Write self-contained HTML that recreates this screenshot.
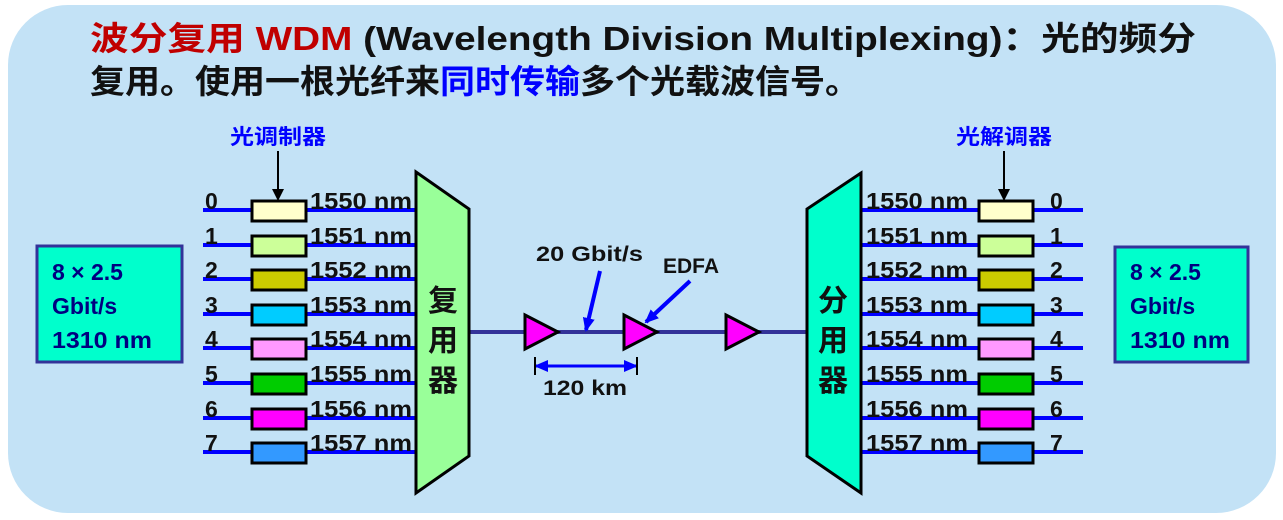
<!DOCTYPE html>
<html><head><meta charset="utf-8"><style>
html,body{margin:0;padding:0;background:#fff;}
svg{display:block;}
text{font-family:"Liberation Sans","Noto Sans CJK SC",sans-serif;font-weight:bold;}
</style></head><body>
<svg width="1283" height="520" viewBox="0 0 1283 520" xmlns="http://www.w3.org/2000/svg">
<defs>
<marker id="ab" markerWidth="12" markerHeight="12" refX="10" refY="6" orient="auto" markerUnits="userSpaceOnUse"><path d="M0,0 L12,6 L0,12 z" fill="#000"/></marker>
<marker id="bb" markerWidth="14" markerHeight="12" refX="12" refY="6" orient="auto" markerUnits="userSpaceOnUse"><path d="M0,0 L14,6 L0,12 z" fill="#0000ff"/></marker>
<marker id="bs" markerWidth="14" markerHeight="12" refX="2" refY="6" orient="auto" markerUnits="userSpaceOnUse"><path d="M14,0 L0,6 L14,12 z" fill="#0000ff"/></marker>
</defs>
<rect x="8" y="5" width="1268" height="508" rx="60" fill="#c3e2f6"/>
<text x="90" y="50" font-size="33" textLength="1106" lengthAdjust="spacingAndGlyphs"><tspan fill="#c00000">波分复用 WDM</tspan><tspan fill="#111"> (Wavelength Division Multiplexing)：光的频分</tspan></text>
<text x="90" y="93" font-size="33" fill="#111" textLength="770" lengthAdjust="spacingAndGlyphs">复用。使用一根光纤来<tspan fill="#0000ff">同时传输</tspan>多个光载波信号。</text>

<text x="230" y="144" font-size="21" fill="#0000ff" textLength="96" lengthAdjust="spacingAndGlyphs">光调制器</text>
<line x1="278" y1="151" x2="278" y2="199" stroke="#000" stroke-width="2" marker-end="url(#ab)"/>
<text x="956" y="144" font-size="21" fill="#0000ff" textLength="96" lengthAdjust="spacingAndGlyphs">光解调器</text>
<line x1="1004" y1="151" x2="1004" y2="199" stroke="#000" stroke-width="2" marker-end="url(#ab)"/>

<g stroke="#0000ff" stroke-width="4">
<line x1="203" y1="210" x2="416" y2="210"/><line x1="203" y1="245" x2="416" y2="245"/><line x1="203" y1="279" x2="416" y2="279"/><line x1="203" y1="314" x2="416" y2="314"/><line x1="203" y1="348" x2="416" y2="348"/><line x1="203" y1="383" x2="416" y2="383"/><line x1="203" y1="418" x2="416" y2="418"/><line x1="203" y1="452" x2="416" y2="452"/>
<line x1="861" y1="210" x2="1083" y2="210"/><line x1="861" y1="245" x2="1083" y2="245"/><line x1="861" y1="279" x2="1083" y2="279"/><line x1="861" y1="314" x2="1083" y2="314"/><line x1="861" y1="348" x2="1083" y2="348"/><line x1="861" y1="383" x2="1083" y2="383"/><line x1="861" y1="418" x2="1083" y2="418"/><line x1="861" y1="452" x2="1083" y2="452"/>
</g>
<g stroke="#000" stroke-width="3">
<rect x="252" y="201" width="54" height="20" fill="#ffffcc"/><rect x="252" y="236" width="54" height="20" fill="#ccff99"/><rect x="252" y="270" width="54" height="20" fill="#cccc00"/><rect x="252" y="305" width="54" height="20" fill="#00ccff"/><rect x="252" y="339" width="54" height="20" fill="#ff99ff"/><rect x="252" y="374" width="54" height="20" fill="#00cc00"/><rect x="252" y="409" width="54" height="20" fill="#ff00ff"/><rect x="252" y="443" width="54" height="20" fill="#3399ff"/>
<rect x="979" y="201" width="54" height="20" fill="#ffffcc"/><rect x="979" y="236" width="54" height="20" fill="#ccff99"/><rect x="979" y="270" width="54" height="20" fill="#cccc00"/><rect x="979" y="305" width="54" height="20" fill="#00ccff"/><rect x="979" y="339" width="54" height="20" fill="#ff99ff"/><rect x="979" y="374" width="54" height="20" fill="#00cc00"/><rect x="979" y="409" width="54" height="20" fill="#ff00ff"/><rect x="979" y="443" width="54" height="20" fill="#3399ff"/>
</g>
<g font-size="23" fill="#111">
<text x="205" y="209">0</text><text x="205" y="244">1</text><text x="205" y="278">2</text><text x="205" y="313">3</text><text x="205" y="347">4</text><text x="205" y="382">5</text><text x="205" y="417">6</text><text x="205" y="451">7</text>
<text x="1050" y="209">0</text><text x="1050" y="244">1</text><text x="1050" y="278">2</text><text x="1050" y="313">3</text><text x="1050" y="347">4</text><text x="1050" y="382">5</text><text x="1050" y="417">6</text><text x="1050" y="451">7</text>
</g>
<g font-size="23" fill="#111">
<text x="310" y="209" textLength="102" lengthAdjust="spacingAndGlyphs">1550 nm</text><text x="310" y="244" textLength="102" lengthAdjust="spacingAndGlyphs">1551 nm</text><text x="310" y="278" textLength="102" lengthAdjust="spacingAndGlyphs">1552 nm</text><text x="310" y="313" textLength="102" lengthAdjust="spacingAndGlyphs">1553 nm</text><text x="310" y="347" textLength="102" lengthAdjust="spacingAndGlyphs">1554 nm</text><text x="310" y="382" textLength="102" lengthAdjust="spacingAndGlyphs">1555 nm</text><text x="310" y="417" textLength="102" lengthAdjust="spacingAndGlyphs">1556 nm</text><text x="310" y="451" textLength="102" lengthAdjust="spacingAndGlyphs">1557 nm</text>
<text x="866" y="209" textLength="102" lengthAdjust="spacingAndGlyphs">1550 nm</text><text x="866" y="244" textLength="102" lengthAdjust="spacingAndGlyphs">1551 nm</text><text x="866" y="278" textLength="102" lengthAdjust="spacingAndGlyphs">1552 nm</text><text x="866" y="313" textLength="102" lengthAdjust="spacingAndGlyphs">1553 nm</text><text x="866" y="347" textLength="102" lengthAdjust="spacingAndGlyphs">1554 nm</text><text x="866" y="382" textLength="102" lengthAdjust="spacingAndGlyphs">1555 nm</text><text x="866" y="417" textLength="102" lengthAdjust="spacingAndGlyphs">1556 nm</text><text x="866" y="451" textLength="102" lengthAdjust="spacingAndGlyphs">1557 nm</text>
</g>

<line x1="469" y1="332" x2="807" y2="332" stroke="#333399" stroke-width="4"/>
<polygon points="416,172 469,209 469,456 416,493" fill="#99ff99" stroke="#000" stroke-width="3"/>
<polygon points="861,173 807,209 807,456 861,493" fill="#00ffcc" stroke="#000" stroke-width="3"/>
<g font-size="30" fill="#111" text-anchor="middle">
<text x="443" y="311">复</text><text x="443" y="351">用</text><text x="443" y="391">器</text>
<text x="833" y="311">分</text><text x="833" y="351">用</text><text x="833" y="391">器</text>
</g>
<g fill="#ff00ff" stroke="#000" stroke-width="3">
<polygon points="525,315 558,332 525,349"/><polygon points="624,315 657,332 624,349"/><polygon points="726,315 759,332 726,349"/>
</g>
<text x="536" y="261" font-size="21" fill="#111" textLength="107" lengthAdjust="spacingAndGlyphs">20 Gbit/s</text>
<text x="663" y="273" font-size="21" fill="#111">EDFA</text>
<line x1="600" y1="271" x2="586" y2="330" stroke="#0000ff" stroke-width="4" marker-end="url(#bb)"/>
<line x1="690" y1="281" x2="646" y2="322" stroke="#0000ff" stroke-width="4" marker-end="url(#bb)"/>
<line x1="536" y1="366" x2="636" y2="366" stroke="#0000ff" stroke-width="3" marker-start="url(#bs)" marker-end="url(#bb)"/>
<line x1="535" y1="357" x2="535" y2="375" stroke="#000" stroke-width="2"/>
<line x1="637" y1="357" x2="637" y2="375" stroke="#000" stroke-width="2"/>
<text x="543" y="395" font-size="21" fill="#111" textLength="84" lengthAdjust="spacingAndGlyphs">120 km</text>

<rect x="37" y="246" width="145" height="116" fill="#00ffcc" stroke="#333399" stroke-width="3"/>
<g font-size="23" fill="#000080">
<text x="52" y="280">8 × 2.5</text><text x="52" y="314">Gbit/s</text><text x="52" y="348" textLength="100" lengthAdjust="spacingAndGlyphs">1310 nm</text>
</g>
<rect x="1115" y="247" width="133" height="115" fill="#00ffcc" stroke="#333399" stroke-width="3"/>
<g font-size="23" fill="#000080">
<text x="1130" y="280">8 × 2.5</text><text x="1130" y="314">Gbit/s</text><text x="1130" y="348" textLength="100" lengthAdjust="spacingAndGlyphs">1310 nm</text>
</g>
</svg>
</body></html>
